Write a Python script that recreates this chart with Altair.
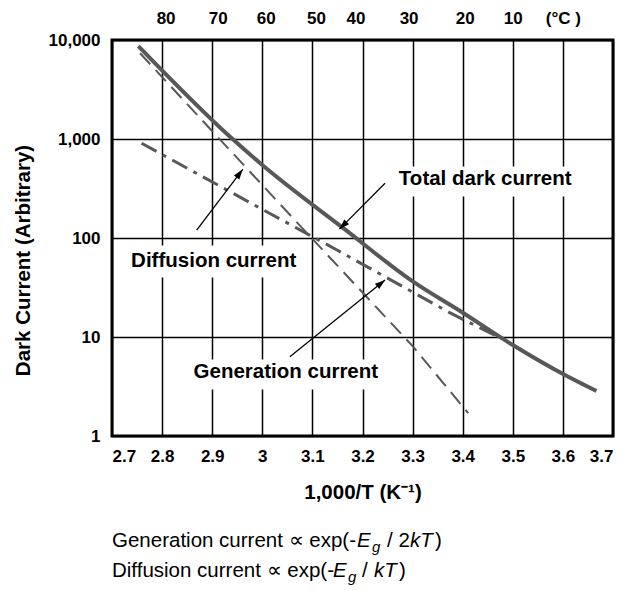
import altair as alt
import pandas as pd

FONT = "Liberation Sans"
INK = "#585858"

# Dark current components against 1,000/T (K^-1)
total_x = [2.7525, 2.939, 3.0, 3.165, 3.301, 3.401, 3.5, 3.604, 3.667]
total_y = [8690, 1016, 546, 122, 36.2, 17.5, 8.3, 4.13, 2.85]

diff_x = [2.756, 3.049, 3.301, 3.411]
diff_y = [7350, 185, 8.0, 1.7]

gen_x = [2.759, 2.995, 3.149, 3.375, 3.478]
gen_y = [906, 201, 75.7, 17.5, 9.6]

# Axis ticks
x_ticks = [2.7, 2.8, 2.9, 3.0, 3.1, 3.2, 3.3, 3.4, 3.5, 3.6, 3.7]
y_ticks = [1, 10, 100, 1000, 10000]

# Temperature scale along the top (positions in 1,000/T)
celsius_pos = [2.808, 2.912, 3.008, 3.108, 3.187, 3.293, 3.405, 3.501, 3.601]
celsius_text = ["80", "70", "60", "50", "40", "30", "20", "10", "(°C )"]

# Curve labels, their white backing boxes and leader arrows
label_text = ["Total dark current", "Diffusion current", "Generation current"]
label_x = [3.445, 2.903, 3.047]
label_y = [395, 59, 4.46]
box_x1 = [3.259, 2.726, 2.848]
box_x2 = [3.638, 3.075, 3.245]
box_y1 = [527, 84, 5.93]
box_y2 = [262, 39.9, 2.95]
arrow_tail_x = [3.245, 2.869, 3.055]
arrow_tail_y = [357, 120, 6.3]
arrow_tip_x = [3.154, 2.961, 3.245]
arrow_tip_y = [123, 494, 37.7]
arrow_angle = [225, 37, 51]

x_scale = alt.Scale(domain=[2.7, 3.7], nice=False, zero=False)
y_scale = alt.Scale(type="log", domain=[1, 10000], nice=False)

x_axis = alt.Axis(
    values=x_ticks,
    labelExpr="format(datum.value, '.1~f')",
    grid=True, gridColor="black", gridWidth=1.5, gridOpacity=1,
    ticks=False, domain=False,
    labelFont=FONT, labelFontSize=17, labelFontWeight="bold", labelColor="black",
    labelPadding=12,
    titleFont=FONT, titleFontSize=20.5, titleFontWeight="bold", titleColor="black",
    titleX=250.5, titleY=56, titleAlign="center", titleBaseline="middle",
)
y_axis = alt.Axis(
    values=y_ticks, format=",",
    grid=True, gridColor="black", gridWidth=1.5, gridOpacity=1,
    ticks=False, domain=False,
    labelFont=FONT, labelFontSize=17, labelFontWeight="bold", labelColor="black",
    labelPadding=12,
    titleFont=FONT, titleFontSize=20.5, titleFontWeight="bold", titleColor="black",
    titleX=-89, titleY=220, titleAngle=-90, titleAlign="center", titleBaseline="middle",
)
X_TITLE = "1,000/T  (K⁻¹)"
Y_TITLE = "Dark Current (Arbitrary)"


def X(field):
    return alt.X(f"{field}:Q", scale=x_scale, axis=x_axis, title=X_TITLE)


def Y(field):
    return alt.Y(f"{field}:Q", scale=y_scale, axis=y_axis, title=Y_TITLE)


total_df = pd.DataFrame({"x": total_x, "y": total_y})
diff_df = pd.DataFrame({"x": diff_x, "y": diff_y})
gen_df = pd.DataFrame({"x": gen_x, "y": gen_y})

diff_line = alt.Chart(diff_df).mark_line(
    color=INK, strokeWidth=2, strokeDash=[15, 8]
).encode(x=X("x"), y=Y("y"), order="x:Q")

gen_line = alt.Chart(gen_df).mark_line(
    color=INK, strokeWidth=3, strokeDash=[17, 7, 4, 7]
).encode(x=X("x"), y=Y("y"), order="x:Q")

total_line = alt.Chart(total_df).mark_line(
    color=INK, strokeWidth=4, interpolate="monotone"
).encode(x=X("x"), y=Y("y"), order="x:Q")

ann = pd.DataFrame({
    "text": label_text, "lx": label_x, "ly": label_y,
    "bx1": box_x1, "bx2": box_x2, "by1": box_y1, "by2": box_y2,
    "tx": arrow_tail_x, "ty": arrow_tail_y,
    "hx": arrow_tip_x, "hy": arrow_tip_y, "angle": arrow_angle,
})

boxes = alt.Chart(ann).mark_rect(color="white").encode(
    x=X("bx1"), x2="bx2:Q", y=Y("by1"), y2="by2:Q"
)
shafts = alt.Chart(ann).mark_rule(color="black", strokeWidth=1.3).encode(
    x=X("tx"), x2="hx:Q", y=Y("ty"), y2="hy:Q"
)
heads = alt.Chart(ann).mark_point(
    shape="M0,0L-0.45,1.35L0.45,1.35Z", filled=True, color="black",
    opacity=1, size=230, strokeWidth=0,
).encode(x=X("hx"), y=Y("hy"), angle=alt.Angle("angle:Q", scale=None))
labels = alt.Chart(ann).mark_text(
    font=FONT, fontSize=20.5, fontWeight="bold", color="black",
    align="center", baseline="middle",
).encode(x=X("lx"), y=Y("ly"), text="text:N")

top_df = pd.DataFrame({"pos": celsius_pos, "text": celsius_text})
top_labels = alt.Chart(top_df).mark_text(
    font=FONT, fontSize=17, fontWeight="bold", color="black",
    align="center", baseline="middle",
).encode(x=X("pos"), y=alt.value(-21), text="text:N")


def formula_piece(text, px, py, size=20.5, style="normal"):
    return alt.Chart(pd.DataFrame({"t": [text]})).mark_text(
        font=FONT, fontSize=size, fontStyle=style, color="black",
        align="left", baseline="alphabetic",
    ).encode(x=alt.value(px), y=alt.value(py), text="t:N")


# Proportionality notes under the chart, set piece by piece for the
# italic symbols and the subscript g
formula = [
    formula_piece("Generation current ∝ exp(-", 0, 507),
    formula_piece("E", 245, 507, style="italic"),
    formula_piece("g", 260, 512, size=15, style="italic"),
    formula_piece("/ 2", 275, 507),
    formula_piece("kT", 298, 507, style="italic"),
    formula_piece(")", 323, 507),
    formula_piece("Diffusion current ∝ exp(-", 0, 537),
    formula_piece("E", 221, 537, style="italic"),
    formula_piece("g", 236, 542, size=15, style="italic"),
    formula_piece("/", 250, 537),
    formula_piece("kT", 262, 537, style="italic"),
    formula_piece(")", 287, 537),
]

chart = alt.layer(
    boxes, diff_line, gen_line, total_line, shafts, heads, labels, top_labels,
    *formula,
).properties(
    width=501, height=396,
    padding={"left": 112, "top": 40, "right": 16, "bottom": 154},
    autosize="none", background="white",
).configure_view(stroke="black", strokeWidth=3)

chart.save("out.html", embed_options={"renderer": "svg", "actions": False})
